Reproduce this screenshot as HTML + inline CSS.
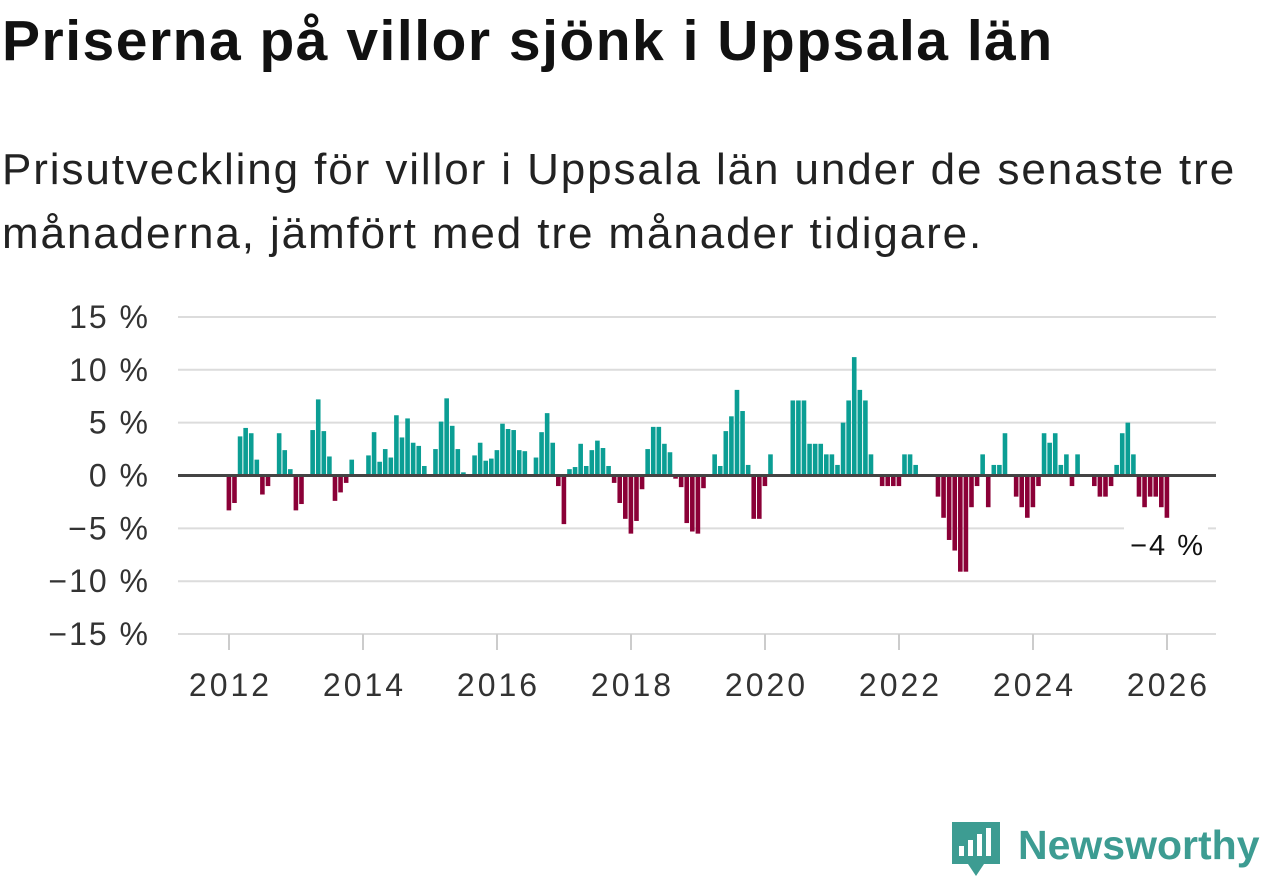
<!DOCTYPE html>
<html><head><meta charset="utf-8">
<style>
body{margin:0;width:1262px;height:879px;background:#fff;font-family:"Liberation Sans",sans-serif;color:#111;overflow:hidden;position:relative}
h1{position:absolute;left:2px;top:8px;margin:0;font-size:57px;font-weight:bold;letter-spacing:1.5px}
.sub{position:absolute;left:2px;top:138px;margin:0;font-size:44px;line-height:64px;color:#222;letter-spacing:1.9px}
svg{position:absolute;left:0;top:0}
</style></head><body>
<h1>Priserna på villor sjönk i Uppsala län</h1>
<p class="sub">Prisutveckling för villor i Uppsala län under de senaste tre<br>månaderna, jämfört med tre månader tidigare.</p>
<svg id="chart" width="1262" height="879"></svg>
<script>
const values = [-3.3,-2.6,3.7,4.5,4.0,1.5,-1.8,-1.0,0,4.0,2.4,0.6,
-3.3,-2.7,0,4.3,7.2,4.2,1.8,-2.4,-1.6,-0.7,1.5,0,
0,1.9,4.1,1.3,2.5,1.7,5.7,3.6,5.4,3.1,2.8,0.9,
0,2.5,5.1,7.3,4.7,2.5,0.3,0,1.9,3.1,1.4,1.6,
2.4,4.9,4.4,4.3,2.4,2.3,0,1.7,4.1,5.9,3.1,-1.0,
-4.6,0.6,0.8,3.0,0.9,2.4,3.3,2.6,0.9,-0.7,-2.6,-4.1,
-5.5,-4.3,-1.3,2.5,4.6,4.6,3.0,2.2,-0.3,-1.1,-4.5,-5.3,
-5.5,-1.2,0,2.0,0.9,4.2,5.6,8.1,6.1,1.0,-4.1,-4.1,
-1.0,2.0,0,0,0,7.1,7.1,7.1,3.0,3.0,3.0,2.0,
2.0,1.0,5.0,7.1,11.2,8.1,7.1,2.0,0,-1.0,-1.0,-1.0,
-1.0,2.0,2.0,1.0,0,0,0,-2.0,-4.0,-6.1,-7.1,-9.1,
-9.1,-3.0,-1.0,2.0,-3.0,1.0,1.0,4.0,0,-2.0,-3.0,-4.0,
-3.0,-1.0,4.0,3.1,4.0,1.0,2.0,-1.0,2.0,0,0,-1.0,
-2.0,-2.0,-1.0,1.0,4.0,5.0,2.0,-2.0,-3.0,-2.0,-2.0,-3.0,
-4.0];
const startYear = 2012;
const yTicks = [15,10,5,0,-5,-10,-15];
const xTickYears = [2012,2014,2016,2018,2020,2022,2024,2026];
const lastLabel = "\u22124 %";

const NS="http://www.w3.org/2000/svg";
const svg=document.getElementById('chart');
const y0=475.5, pxPer=10.57, x0=229, pxYear=67.0;
const yS=v=>y0-v*pxPer;
const xS=m=>x0+m*pxYear/12;
function mk(t,a){const e=document.createElementNS(NS,t);for(const k in a)e.setAttribute(k,a[k]);svg.appendChild(e);return e;}
yTicks.forEach(t=>{
  if(t!==0){const g=mk('line',{x1:178,x2:1216,y1:yS(t),y2:yS(t),stroke:'#dcdcdc','stroke-width':2});
  
  }
  const l=mk('text',{x:150,y:yS(t)+11,'text-anchor':'end','font-size':32,'letter-spacing':2,fill:'#333','font-family':'Liberation Sans, sans-serif'});
  l.textContent=(t<0?'\u2212'+(-t):t)+' %';
  
  
});
xTickYears.forEach(yr=>{
  const x=xS((yr-startYear)*12);
  const tk=mk('line',{x1:x,x2:x,y1:634,y2:650,stroke:'#ccc','stroke-width':2});
  
  
  const l=mk('text',{x:x+1.5,y:696,'text-anchor':'middle','font-size':32,'letter-spacing':3,fill:'#333','font-family':'Liberation Sans, sans-serif'});
  l.textContent=yr;
  
  
});
values.forEach((v,i)=>{
  if(v===0)return;
  const x=xS(i);
  const r=mk('rect',{x:x-2.4,width:4.6,y:v>0?yS(v):y0,height:Math.abs(v)*pxPer,fill:v>0?'#0b9e94':'#8b0037'});
  
  
});
const zl=mk('line',{x1:178,x2:1216,y1:y0,y2:y0,stroke:'#444','stroke-width':3});


const bg=mk('rect',{x:1124,y:526,width:84,height:36,fill:'#fff'});


const an=mk('text',{x:1205,y:555,'text-anchor':'end','font-size':29,'letter-spacing':2,fill:'#111','font-family':'Liberation Sans, sans-serif'});
an.textContent=lastLabel;


</script>
<svg width="1262" height="879" style="pointer-events:none">
<path d="M952 822 h48 v42 h-16 l-8 12 l-8 -12 h-16 z" fill="#3d9c92"/>
<rect x="959" y="846" width="5" height="10" fill="#fff"/>
<rect x="968" y="840" width="5" height="16" fill="#fff"/>
<rect x="977" y="834" width="5" height="22" fill="#fff"/>
<rect x="986" y="828" width="5" height="28" fill="#fff"/>
<text x="1018" y="859" font-size="41" font-weight="bold" fill="#3d9c92" font-family="Liberation Sans, sans-serif">Newsworthy</text>
</svg>
</body></html>
